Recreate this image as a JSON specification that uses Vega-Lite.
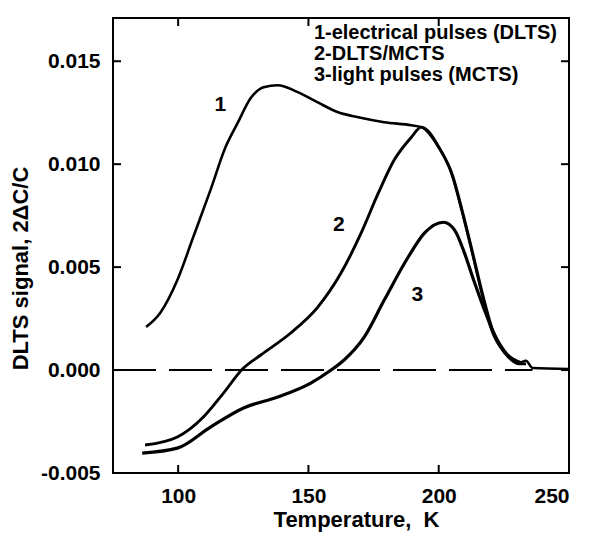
{
  "$schema": "https://vega.github.io/schema/vega-lite/v6.json",
  "width": 456,
  "height": 455,
  "autosize": {"type": "none"},
  "padding": {"left": 113, "top": 18, "right": 25, "bottom": 64},
  "background": "white",
  "config": {
    "font": "Liberation Sans",
    "view": {"stroke": "black", "strokeWidth": 2},
    "axis": {
      "domain": false, "ticks": false,
      "labelColor": "black", "labelFontSize": 21, "labelFontWeight": "bold", "labelFont": "Liberation Sans",
      "titleColor": "black", "titleFontSize": 22, "titleFontWeight": "bold", "titleFont": "Liberation Sans",
      "grid": false
    }
  },
  "datasets": {
    "curves": [
      {"series": "1", "T": 87.7, "v": 0.00209},
      {"series": "1", "T": 93.1, "v": 0.00277},
      {"series": "1", "T": 99.7, "v": 0.00437},
      {"series": "1", "T": 105.8, "v": 0.00646},
      {"series": "1", "T": 112.4, "v": 0.00874},
      {"series": "1", "T": 118.2, "v": 0.01083},
      {"series": "1", "T": 122.8, "v": 0.01199},
      {"series": "1", "T": 127.8, "v": 0.0132},
      {"series": "1", "T": 132.8, "v": 0.01374},
      {"series": "1", "T": 138.2, "v": 0.01383},
      {"series": "1", "T": 145.9, "v": 0.0135},
      {"series": "1", "T": 153.6, "v": 0.0130},
      {"series": "1", "T": 161.4, "v": 0.01252},
      {"series": "1", "T": 169.1, "v": 0.01228},
      {"series": "1", "T": 179.1, "v": 0.01204},
      {"series": "1", "T": 189.5, "v": 0.01189},
      {"series": "1", "T": 193.3, "v": 0.0118},
      {"series": "1", "T": 199.9, "v": 0.01083},
      {"series": "1", "T": 204.9, "v": 0.00956},
      {"series": "1", "T": 208.8, "v": 0.00777},
      {"series": "1", "T": 212.6, "v": 0.00583},
      {"series": "1", "T": 216.5, "v": 0.00374},
      {"series": "1", "T": 220.3, "v": 0.00194},
      {"series": "1", "T": 225.3, "v": 0.00083},
      {"series": "1", "T": 230.7, "v": 0.00034},
      {"series": "1", "T": 233.5, "v": 0.00045},
      {"series": "1", "T": 236.0, "v": 0.0001},
      {"series": "1", "T": 250.0, "v": 0.00005},
      {"series": "2", "T": 87.3, "v": -0.00364},
      {"series": "2", "T": 99.7, "v": -0.00325},
      {"series": "2", "T": 109.7, "v": -0.00228},
      {"series": "2", "T": 117.4, "v": -0.00112},
      {"series": "2", "T": 124.7, "v": 0.00005},
      {"series": "2", "T": 131.7, "v": 0.00073},
      {"series": "2", "T": 143.2, "v": 0.0018},
      {"series": "2", "T": 153.6, "v": 0.00306},
      {"series": "2", "T": 162.5, "v": 0.00471},
      {"series": "2", "T": 170.2, "v": 0.00665},
      {"series": "2", "T": 176.8, "v": 0.00859},
      {"series": "2", "T": 182.9, "v": 0.0102},
      {"series": "2", "T": 189.5, "v": 0.01131},
      {"series": "2", "T": 193.3, "v": 0.0118},
      {"series": "2", "T": 200.4, "v": 0.01075},
      {"series": "2", "T": 205.3, "v": 0.00945},
      {"series": "2", "T": 209.2, "v": 0.00765},
      {"series": "2", "T": 213.0, "v": 0.0057},
      {"series": "2", "T": 216.9, "v": 0.00365},
      {"series": "2", "T": 220.8, "v": 0.0019},
      {"series": "2", "T": 225.8, "v": 0.0008},
      {"series": "2", "T": 231.0, "v": 0.0003},
      {"series": "2", "T": 233.5, "v": 0.0003},
      {"series": "3", "T": 86.2, "v": -0.00403},
      {"series": "3", "T": 99.7, "v": -0.00379},
      {"series": "3", "T": 112.4, "v": -0.00277},
      {"series": "3", "T": 125.1, "v": -0.00184},
      {"series": "3", "T": 138.2, "v": -0.00131},
      {"series": "3", "T": 150.9, "v": -0.00063},
      {"series": "3", "T": 158.7, "v": 0.0},
      {"series": "3", "T": 163.7, "v": 0.00049},
      {"series": "3", "T": 171.4, "v": 0.0016},
      {"series": "3", "T": 179.1, "v": 0.0034},
      {"series": "3", "T": 188.3, "v": 0.00549},
      {"series": "3", "T": 194.5, "v": 0.00665},
      {"series": "3", "T": 201.8, "v": 0.00718},
      {"series": "3", "T": 206.1, "v": 0.0068},
      {"series": "3", "T": 209.9, "v": 0.00568},
      {"series": "3", "T": 213.4, "v": 0.00437},
      {"series": "3", "T": 217.3, "v": 0.00301},
      {"series": "3", "T": 221.1, "v": 0.0018},
      {"series": "3", "T": 226.1, "v": 0.00078},
      {"series": "3", "T": 231.9, "v": 0.00034}
    ],
    "zero": [{"T0": 75, "T1": 236, "v": 0}],
    "ticksBottom": [{"T": 100, "v": -0.005}, {"T": 150, "v": -0.005}, {"T": 200, "v": -0.005}],
    "ticksTop": [{"T": 100, "v": 0.0171}, {"T": 150, "v": 0.0171}, {"T": 200, "v": 0.0171}],
    "ticksLeft": [{"T": 75, "v": 0}, {"T": 75, "v": 0.005}, {"T": 75, "v": 0.01}, {"T": 75, "v": 0.015}],
    "ticksRight": [{"T": 250, "v": 0}, {"T": 250, "v": 0.005}, {"T": 250, "v": 0.01}, {"T": 250, "v": 0.015}],
    "curveLabels": [
      {"label": "1", "T": 116.2, "v": 0.01286},
      {"label": "2", "T": 161.7, "v": 0.00704},
      {"label": "3", "T": 191.8, "v": 0.00364}
    ],
    "legend": [
      {"label": "1-electrical pulses (DLTS)", "T": 152.1, "v": 0.01636},
      {"label": "2-DLTS/MCTS", "T": 152.1, "v": 0.01534},
      {"label": "3-light pulses (MCTS)", "T": 152.1, "v": 0.01432}
    ]
  },
  "layer": [
    {
      "data": {"name": "curves"},
      "mark": {"type": "line", "interpolate": "monotone", "color": "black"},
      "encoding": {
        "x": {"field": "T", "type": "quantitative", "scale": {"domain": [75, 250], "nice": false, "zero": false},
          "axis": {"orient": "bottom", "values": [100, 150, 200, 250], "title": "Temperature,\u00a0 K", "labelPadding": 12, "titlePadding": 3, "titleX": 243}},
        "y": {"field": "v", "type": "quantitative", "scale": {"domain": [-0.005, 0.0171], "nice": false, "zero": false},
          "axis": {"orient": "left", "values": [-0.005, 0, 0.005, 0.01, 0.015], "labelExpr": "replace(format(datum.value, '.3f'), '\u2212', '-')", "title": "DLTS signal, 2\u0394C/C", "labelPadding": 13, "titlePadding": 8, "titleY": 250}},
        "detail": {"field": "series"},
        "strokeWidth": {"field": "series", "type": "nominal", "scale": {"domain": ["1", "2", "3"], "range": [2.6, 3.2, 2.0]}, "legend": null}
      }
    },
    {
      "data": {"name": "zero"},
      "mark": {"type": "rule", "color": "black", "strokeWidth": 2, "strokeDash": [43, 13]},
      "encoding": {
        "x": {"field": "T0", "type": "quantitative"},
        "x2": {"field": "T1"},
        "y": {"field": "v", "type": "quantitative"}
      }
    },
    {
      "data": {"name": "ticksBottom"},
      "mark": {"type": "tick", "orient": "vertical", "size": 8, "thickness": 2, "color": "black", "opacity": 1, "yOffset": -4},
      "encoding": {
        "x": {"field": "T", "type": "quantitative"},
        "y": {"field": "v", "type": "quantitative"}
      }
    },
    {
      "data": {"name": "ticksTop"},
      "mark": {"type": "tick", "orient": "vertical", "size": 8, "thickness": 2, "color": "black", "opacity": 1, "yOffset": 4},
      "encoding": {
        "x": {"field": "T", "type": "quantitative"},
        "y": {"field": "v", "type": "quantitative"}
      }
    },
    {
      "data": {"name": "ticksLeft"},
      "mark": {"type": "tick", "orient": "horizontal", "size": 8, "thickness": 2, "color": "black", "opacity": 1, "xOffset": 4},
      "encoding": {
        "x": {"field": "T", "type": "quantitative"},
        "y": {"field": "v", "type": "quantitative"}
      }
    },
    {
      "data": {"name": "ticksRight"},
      "mark": {"type": "tick", "orient": "horizontal", "size": 8, "thickness": 2, "color": "black", "opacity": 1, "xOffset": -4},
      "encoding": {
        "x": {"field": "T", "type": "quantitative"},
        "y": {"field": "v", "type": "quantitative"}
      }
    },
    {
      "data": {"name": "curveLabels"},
      "mark": {"type": "text", "fontSize": 21, "fontWeight": "bold", "color": "black", "font": "Liberation Sans"},
      "encoding": {
        "x": {"field": "T", "type": "quantitative"},
        "y": {"field": "v", "type": "quantitative"},
        "text": {"field": "label"}
      }
    },
    {
      "data": {"name": "legend"},
      "mark": {"type": "text", "fontSize": 20, "fontWeight": "bold", "align": "left", "baseline": "middle", "color": "black", "font": "Liberation Sans"},
      "encoding": {
        "x": {"field": "T", "type": "quantitative"},
        "y": {"field": "v", "type": "quantitative"},
        "text": {"field": "label"}
      }
    }
  ]
}
